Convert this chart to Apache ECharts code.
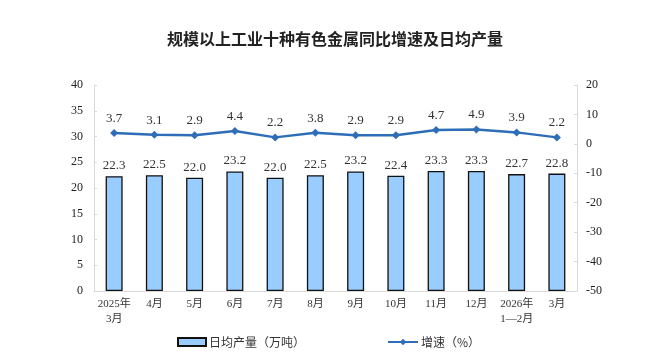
<!DOCTYPE html>
<html><head><meta charset="utf-8">
<script src="https://cdn.jsdelivr.net/npm/echarts@6/dist/echarts.min.js"></script>
<style>html,body{margin:0;padding:0;background:#fff}#c{width:670px;height:363px}</style>
</head><body><div id="c"></div>
<script>
const categories = ['2025年\n3月','4月','5月','6月','7月','8月','9月','10月','11月','12月','2026年\n1—2月','3月'];
const output = [22.3,22.5,22.0,23.2,22.0,22.5,23.2,22.4,23.3,23.3,22.7,22.8];
const growth = [3.7,3.1,2.9,4.4,2.2,3.8,2.9,2.9,4.7,4.9,3.9,2.2];
const titleText = '规模以上工业十种有色金属同比增速及日均产量';
const barName = '日均产量（万吨）';
const lineName = '增速（%）';

const serif = '"Liberation Serif","Times New Roman","Noto Sans CJK SC",serif';
const legText = {fontSize:12,color:'#333',fontFamily:'"Noto Sans CJK SC",serif',padding:[0,0,0,-2]};
const chart = echarts.init(document.getElementById('c'));
chart.setOption({
  animation:false,
  title:{text:titleText,left:'center',top:26,textStyle:{fontSize:16,fontWeight:'bold',color:'#222',fontFamily:'"Noto Sans CJK SC",sans-serif'}},
  legend:[
    {top:331,left:172,itemWidth:28,itemHeight:8,textStyle:legText,
     data:[{name:barName,icon:'rect'}]},
    {top:331,left:382,itemWidth:30,itemHeight:8,textStyle:legText,
     data:[{name:lineName}]}
  ],
  grid:{left:94,right:93,top:85,bottom:72},
  xAxis:{type:'category',data:categories,
    axisLine:{lineStyle:{color:'#d9d9d9'}},
    axisTick:{inside:true,length:3,lineStyle:{color:'#d9d9d9'}},
    axisLabel:{fontSize:11,color:'#333',lineHeight:15,margin:6,interval:0,fontFamily:serif}},
  yAxis:[
    {type:'value',min:0,max:40,interval:5,splitLine:{show:false},
     axisLine:{show:true,lineStyle:{color:'#d9d9d9'}},
     axisTick:{show:true,inside:true,length:3,lineStyle:{color:'#d9d9d9'}},
     axisLabel:{fontSize:12,color:'#222',margin:11,fontFamily:serif}},
    {type:'value',min:-50,max:20,interval:10,splitLine:{show:false},
     axisLine:{show:true,lineStyle:{color:'#d9d9d9'}},
     axisTick:{show:true,inside:true,length:3,lineStyle:{color:'#d9d9d9'}},
     axisLabel:{fontSize:12,color:'#222',margin:9,fontFamily:serif}}
  ],
  series:[
    {name:barName,type:'bar',data:output,barWidth:17,yAxisIndex:0,
     itemStyle:{color:'#99ccff',borderColor:'#111',borderWidth:1.3},
     label:{show:true,position:'top',fontSize:13,color:'#333',fontFamily:serif,formatter:p=>p.value.toFixed(1),distance:4}},
    {name:lineName,type:'line',data:growth,yAxisIndex:1,symbol:'diamond',symbolSize:8,
     lineStyle:{color:'#2e6db8',width:2.5},itemStyle:{color:'#2e6db8'},
     label:{show:true,position:'top',fontSize:13,color:'#333',fontFamily:serif,formatter:p=>p.value.toFixed(1),distance:4}}
  ]
});
</script></body></html>
